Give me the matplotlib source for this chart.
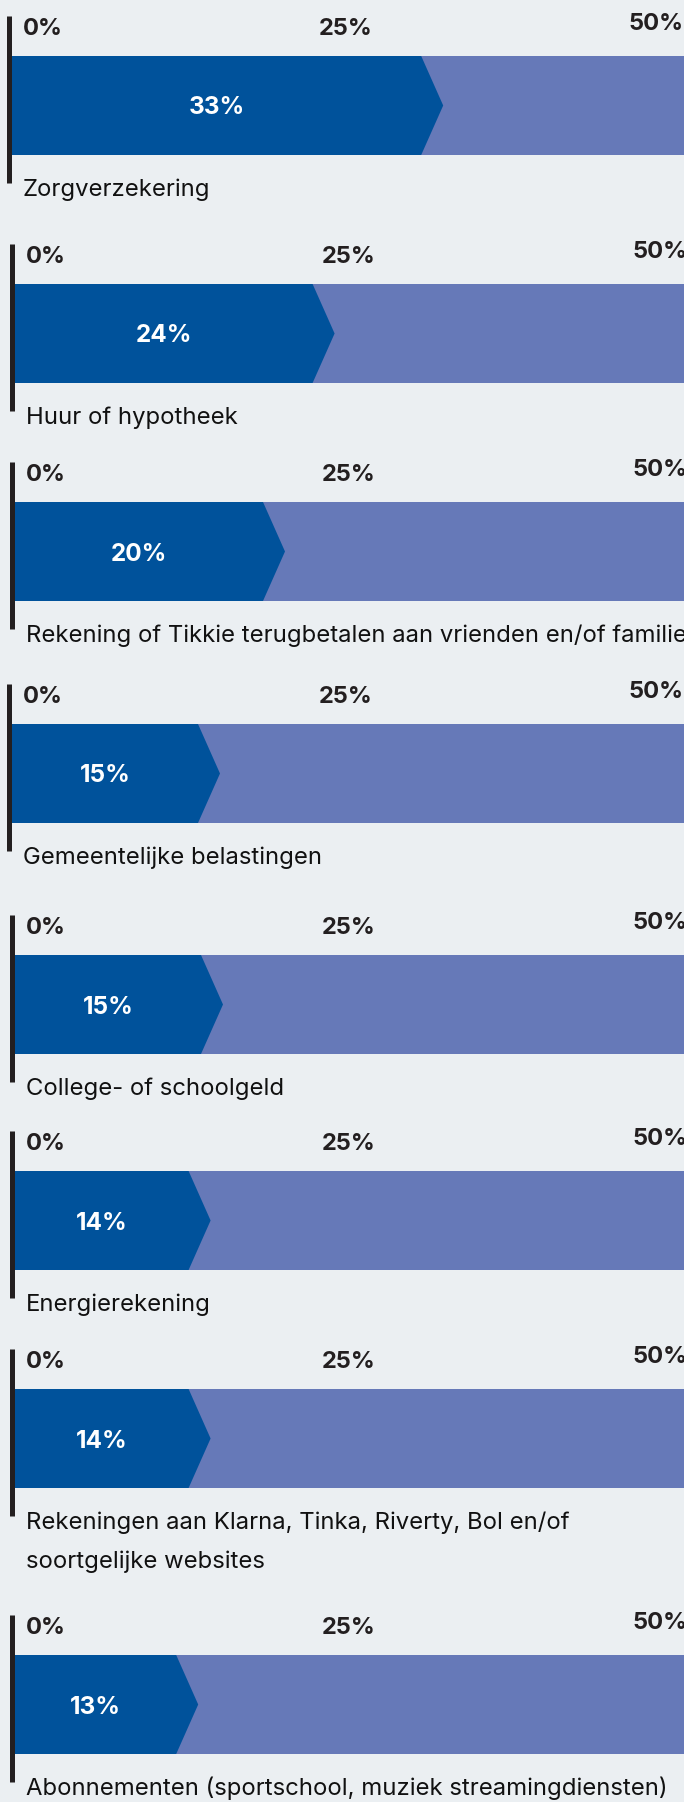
import matplotlib
matplotlib.use("Agg")
import matplotlib.pyplot as plt
from matplotlib.patches import Polygon
from matplotlib.lines import Line2D

# ---- data ----
categories = [
    "Zorgverzekering",
    "Huur of hypotheek",
    "Rekening of Tikkie terugbetalen aan vrienden en/of familie",
    "Gemeentelijke belastingen",
    "College- of schoolgeld",
    "Energierekening",
    "Rekeningen aan Klarna, Tinka, Riverty, Bol en/of\nsoortgelijke websites",
    "Abonnementen (sportschool, muziek streamingdiensten)",
]
values = [33, 24, 20, 15, 15, 14, 14, 13]
tick_values = [0, 25, 50]
tick_labels = ["0%", "25%", "50%"]
total = 100

# ---- style / layout ----
W, H, DPI = 684, 1802, 100
BG = "#EBEFF2"
DARK = "#00529B"
LIGHT = "#6679B8"
INK = "#231F20"
bar_tops = [56, 284, 502, 724, 955, 1171, 1389, 1655]
bar_lefts = [12, 15, 15, 12, 15, 15, 15, 15]
BAR_H = 99
PX_PER_PCT = 12.4
TIP_PX = 22
PT = 0.72  # points per pixel at 100 dpi

plt.rcParams["font.family"] = ["Inter", "DejaVu Sans"]

fig = plt.figure(figsize=(W / DPI, H / DPI), dpi=DPI, facecolor=BG)

for i, (cat, v) in enumerate(zip(categories, values)):
    left, top = bar_lefts[i], bar_tops[i]
    w_px = W - left
    ax = fig.add_axes([left / W, 1 - (top + BAR_H) / H, w_px / W, BAR_H / H])
    ax.set_xlim(0, w_px / PX_PER_PCT)
    ax.set_ylim(0, 1)
    ax.axis("off")

    # remainder (full) bar
    ax.barh(0.5, total, height=1, left=0, color=LIGHT, linewidth=0)
    # value bar with arrow tip
    tip = TIP_PX / PX_PER_PCT
    ax.add_patch(Polygon([(0, 0), (v, 0), (v + tip, 0.5), (v, 1), (0, 1)],
                         closed=True, facecolor=DARK, edgecolor="none"))
    ax.text(v / 2, 0.5 - 9 / BAR_H, f"{v}%", ha="center", va="baseline",
            color="white", fontsize=17.5, fontweight="bold")

    # tick labels above the bar
    for t, lab in zip(tick_values, tick_labels):
        dx = 11 if t == 0 else -3
        dy = 5 if t == tick_values[-1] else 0
        ax.annotate(lab, xy=(t, 1), xycoords=("data", "axes fraction"),
                    xytext=(dx * PT, (21 + dy) * PT), textcoords="offset points",
                    ha="left", va="baseline", color=INK, fontsize=17,
                    fontweight="bold", annotation_clip=False)

    # vertical axis line on the left
    ax.add_line(Line2D([-3 / w_px, -3 / w_px], [-28 / BAR_H, 1 + 40 / BAR_H],
                       transform=ax.transAxes, color=INK, linewidth=5 * PT,
                       solid_capstyle="butt", clip_on=False))

    # category label below the bar
    for k, line in enumerate(cat.split("\n")):
        ax.annotate(line, xy=(0, 0), xycoords="axes fraction",
                    xytext=(11 * PT, -(41 + 39 * k) * PT), textcoords="offset points",
                    ha="left", va="baseline", color="#111111", fontsize=17.2,
                    annotation_clip=False)

fig.savefig("out.png", dpi=DPI, facecolor=BG)
